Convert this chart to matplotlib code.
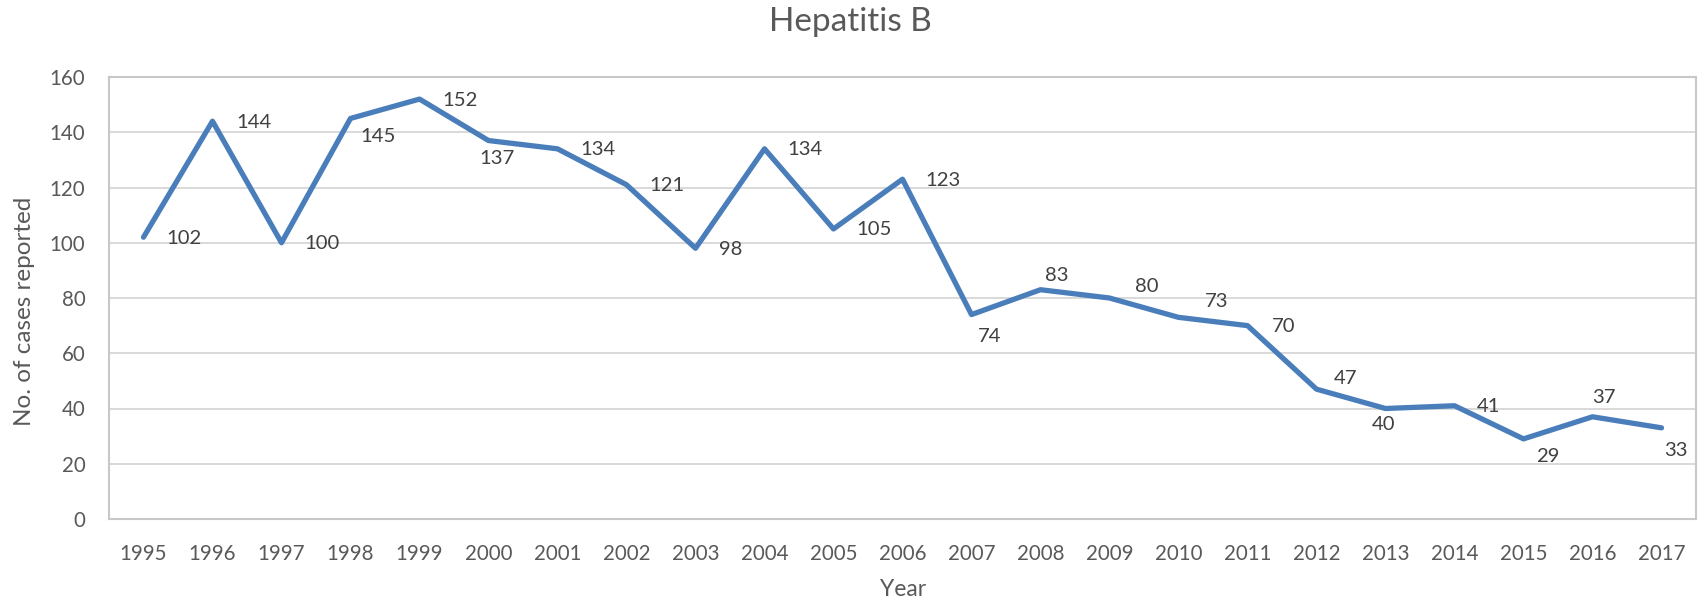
import matplotlib
matplotlib.use("Agg")
import matplotlib.pyplot as plt

# data
years = [str(y) for y in range(1995, 2018)]
cases = [102, 144, 100, 145, 152, 137, 134, 121, 98, 134, 105, 123,
         74, 83, 80, 73, 70, 47, 40, 41, 29, 37, 33]
y_ticks = [0, 20, 40, 60, 80, 100, 120, 140, 160]

# where each value label sits relative to its point (pixels, +y = down)
label_dx = [41, 41, 41, 28, 41, 9, 41, 41, 35, 41, 41, 41,
            18, 16, 37, 38, 36, 29, -2, 34, 24, 11, 14]
label_dy = [0, 0, 0, 17, 0, 17, 0, 0, 0, 0, 0, 0,
            21, -15, -12, -17, 0, -12, 15, 0, 17, -20, 22]

FONT = "Lato"
TXT = "#595959"
LBL = "#404040"
LINE = "#4A7EBB"

plt.rcParams["font.family"] = [FONT, "DejaVu Sans"]

fig = plt.figure(figsize=(17, 6.04), dpi=100)
W, H = 1700, 604
left, right, top, bottom = 109, 1696, 77, 519
ax = fig.add_axes([left / W, 1 - bottom / H, (right - left) / W, (bottom - top) / H])

x = list(range(len(years)))
ax.plot(x, cases, color=LINE, lw=3.8, solid_capstyle="round",
        solid_joinstyle="round", zorder=3)

for i, v in enumerate(cases):
    ax.annotate(str(v), (i, v), xytext=(label_dx[i], -label_dy[i] - 1),
                textcoords="offset pixels", ha="center", va="center",
                fontsize=14.6, color=LBL, zorder=4)

ax.set_xlim(-0.5, len(years) - 0.5)
ax.set_ylim(0, 160)
ax.set_xticks(x)
ax.set_xticklabels(years)
ax.set_yticks(y_ticks)
ax.tick_params(axis="both", length=0, labelsize=14.8, labelcolor=TXT)
ax.tick_params(axis="x", pad=18)
ax.tick_params(axis="y", pad=17)

ax.yaxis.grid(True, color="#D9D9D9", lw=1.4, zorder=0)
ax.set_axisbelow(True)
for s in ax.spines.values():
    s.set_color("#C8C8C8")
    s.set_linewidth(1.5)

fig.text(850 / W, 1 - 22 / H, "Hepatitis B", ha="center", va="center",
         fontsize=24, color=TXT)
fig.text(903 / W, 1 - 590 / H, "Year", ha="center", va="center",
         fontsize=16.5, color=TXT)
fig.text(25 / W, 1 - 311 / H, "No. of cases reported", ha="center", va="center",
         rotation=90, fontsize=17.5, color=TXT)

fig.savefig("out.png", dpi=100, facecolor="white")
